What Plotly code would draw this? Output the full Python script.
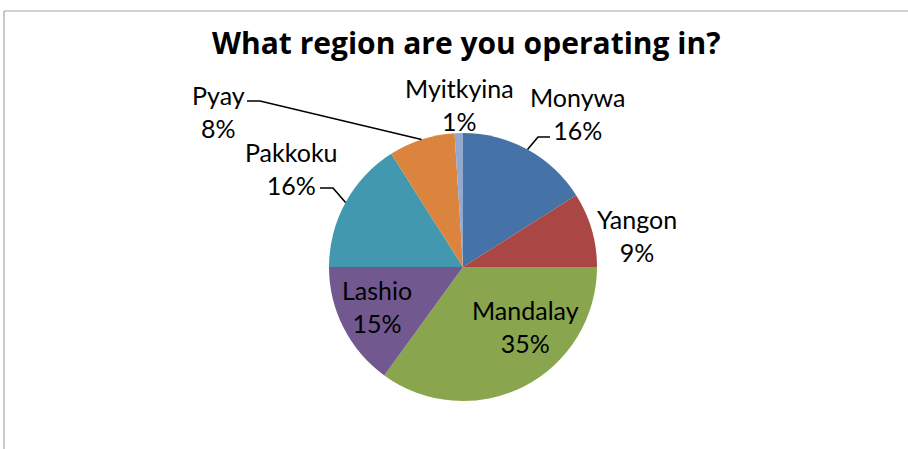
import math
import plotly.graph_objects as go

W, H = 908, 449

# ---- data ----
regions = ["Monywa", "Yangon", "Mandalay", "Lashio", "Pakkoku", "Pyay", "Myitkyina"]
shares = [16, 9, 35, 15, 16, 8, 1]
colors = ["#4572A7", "#AA4643", "#89A54E", "#71588F", "#4198AF", "#DB843D", "#93A9CF"]
title_text = "What region are you operating in?"

# ---- layout/style (pixels) ----
cx, cy, R = 463, 267, 134
label_pos = {  # centre of label block (px)
    "Monywa": (577, 114),
    "Yangon": (637, 235),
    "Mandalay": (525, 326),
    "Lashio": (377, 306),
    "Pakkoku": (291, 168),
    "Pyay": (218, 111),
    "Myitkyina": (459, 104),
}
# leader elbow points (px): (elbow, end)
leaders = {
    "Monywa": ((538, 137), (550, 137)),
    "Pakkoku": ((333, 188), (320, 188)),
    "Pyay": ((260, 101), (247, 101)),
}
FONT = "Lato"

def px(x):
    return x / W

def py(y):
    return 1 - y / H

fig = go.Figure()
fig.add_trace(go.Pie(
    labels=regions, values=shares, sort=False, direction="clockwise", rotation=0,
    marker=dict(colors=colors, line=dict(width=0)),
    textinfo="none", hoverinfo="label+percent", showlegend=False,
    domain=dict(x=[px(cx - R), px(cx + R)], y=[py(cy + R), py(cy - R)]),
))

total = sum(shares)
cum = 0
shapes = []
annotations = []
for name, v in zip(regions, shares):
    mid = (cum + v / 2) / total * 2 * math.pi
    cum += v
    pct = round(100 * v / total)
    lx, ly = label_pos[name]
    annotations.append(dict(
        x=px(lx), y=py(ly), xref="paper", yref="paper", showarrow=False,
        text=f"{name}<br>{pct}%", align="center",
        font=dict(family=FONT, size=25, color="#000000"),
        xanchor="center", yanchor="middle",
    ))
    if name in leaders:
        ex = cx + R * math.sin(mid)
        ey = cy - R * math.cos(mid)
        (bx, by), (tx, ty) = leaders[name]
        path = f"M {px(ex)} {py(ey)} L {px(bx)} {py(by)} L {px(tx)} {py(ty)}"
        shapes.append(dict(type="path", xref="paper", yref="paper", path=path,
                           line=dict(color="#000000", width=1.6)))

# chart frame
shapes.append(dict(type="line", xref="paper", yref="paper", x0=px(4), x1=1.01, y0=py(11), y1=py(11),
                   line=dict(color="#a6a6a6", width=1.2)))
shapes.append(dict(type="line", xref="paper", yref="paper", x0=px(4), x1=px(4), y0=py(11), y1=-0.01,
                   line=dict(color="#a6a6a6", width=1.2)))

annotations.append(dict(
    x=px(466), y=py(42), xref="paper", yref="paper", showarrow=False,
    text="<b>" + title_text + "</b>", font=dict(family="Open Sans", size=30, color="#000000"),
    xanchor="center", yanchor="middle",
))

fig.update_layout(
    width=W, height=H, margin=dict(l=0, r=0, t=0, b=0),
    paper_bgcolor="white", plot_bgcolor="white",
    shapes=shapes, annotations=annotations,
)
fig.write_html("out.html", config={"displayModeBar": False},
               post_script="document.body.style.margin='0';document.body.style.overflow='hidden';")
